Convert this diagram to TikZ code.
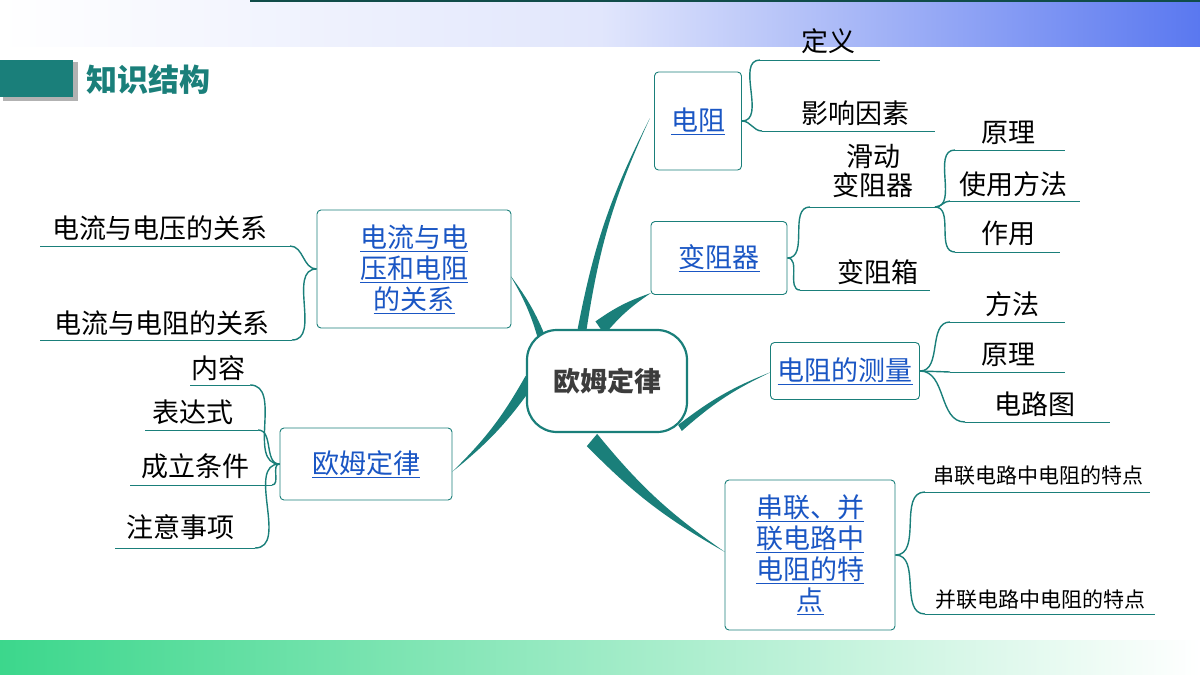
\documentclass[tikz,border=0pt]{standalone}
\usepackage{fontspec}
\setmainfont{Noto Sans CJK SC}
\usetikzlibrary{calc}
\definecolor{teal1}{HTML}{1A7F7A}
\definecolor{lnk}{HTML}{1A56C4}
\begin{document}
\begin{tikzpicture}[x=1pt,y=-1pt,
 box/.style={draw=teal1,line width=0.9pt,rounded corners=4pt,fill=white,align=center,text=lnk,font=\fontsize{27}{31}\selectfont,inner sep=0pt},
 leaf/.style={font=\fontsize{27}{29}\selectfont,inner sep=0pt,align=center},
 uline/.style={draw=teal1,line width=1pt},
 conn/.style={draw=teal1,line width=1.4pt}]
\useasboundingbox (0,0) rectangle (1200,675);
% bands
\shade[left color=white,right color={rgb,255:red,90;green,120;blue,240},middle color={rgb,255:red,225;green,230;blue,252}] (0,0) rectangle (1200,46);
\fill[teal1!60!black] (250,0) rectangle (1200,2);
\shade[left color={rgb,255:red,60;green,215;blue,140},right color=white] (0,640) rectangle (1200,675);
% title
\fill[gray!60] (3,62) rectangle (78,101);
\fill[teal1] (0,60) rectangle (73,97);
\node[anchor=west,text=teal1,font=\fontsize{31}{31}\selectfont\bfseries] (title) at (83,80) {知识结构};
% tapered branches
\newcommand{\taper}[4]{\fill[teal1] ($(#1)!#3!90:(#2)$) to[bend #4=8] (#2) to[bend #4=-8] ($(#1)!#3!-90:(#2)$) -- cycle;}
\coordinate (a1) at (582,330); \coordinate (b1) at (650,118);
\taper{a1}{b1}{4.5pt}{left}
\coordinate (a2) at (600,328); \coordinate (b2) at (651,293);
\taper{a2}{b2}{8pt}{left}
\coordinate (a3) at (545,348); \coordinate (b3) at (510,275);
\taper{a3}{b3}{4.5pt}{right}
\coordinate (a4) at (530,380); \coordinate (b4) at (452,472);
\taper{a4}{b4}{6pt}{left}
\coordinate (a5) at (680,428); \coordinate (b5) at (771,372);
\taper{a5}{b5}{3.5pt}{left}
\coordinate (a6) at (592,440); \coordinate (b6) at (725,552);
\taper{a6}{b6}{8pt}{right}
% center
\node[draw=teal1,line width=2.2pt,fill=white,rounded corners=30pt,minimum width=160pt,minimum height=102pt,font=\fontsize{27}{27}\selectfont\bfseries,text={rgb,255:red,60;green,60;blue,60}] (c) at (607,381) {欧姆定律};
% boxes
\node[box,minimum width=87pt,minimum height=98pt] (r) at (698,121) {\underline{电阻}};
\node[box,minimum width=136pt,minimum height=73pt] (bz) at (719,258) {\underline{变阻器}};
\node[box,minimum width=149pt,minimum height=57pt] (cl) at (845,371) {\underline{电阻的测量}};
\node[box,minimum width=170pt,minimum height=150pt] (cb) at (810,555) {\underline{串联、并}\\\underline{联电路中}\\\underline{电阻的特}\\\underline{点}};
\node[box,minimum width=194pt,minimum height=118pt] (gx) at (414,269) {\underline{电流与电}\\\underline{压和电阻}\\\underline{的关系}};
\node[box,minimum width=172pt,minimum height=72pt] (om) at (366,464) {\underline{欧姆定律}};
% right of 电阻
\node[leaf] (dy) at (828,41) {定义}; \coordinate (dys) at (760,60); \draw[uline] (dys) -- (880,60);
\node[leaf] (yx) at (855,113) {影响因素}; \coordinate (yxs) at (762,131); \draw[uline] (yxs) -- (935,131);
\draw[conn] (r.east) to[out=0,in=180] (dys);
\draw[conn] (r.east) to[out=0,in=180] (yxs);
% 变阻器
\node[leaf] (hd) at (873,171) {滑动\\变阻器}; \coordinate (hds) at (810,207); \coordinate (hde) at (935,207); \draw[uline] (hds) -- (hde);
\node[leaf] (bzx) at (878,272) {变阻箱}; \coordinate (bzxs) at (800,290); \draw[uline] (bzxs) -- (930,290);
\draw[conn] (bz.east) to[out=0,in=180] (hds);
\draw[conn] (bz.east) to[out=0,in=180] (bzxs);
\node[leaf] (yl) at (1008,133) {原理}; \coordinate (yls) at (955,150); \draw[uline] (yls) -- (1065,150);
\node[leaf] (sy) at (1013,184) {使用方法}; \coordinate (sys) at (950,201); \draw[uline] (sys) -- (1080,201);
\node[leaf] (zy) at (1008,233) {作用}; \coordinate (zys) at (955,252); \draw[uline] (zys) -- (1060,252);
\draw[conn] (hde) to[out=0,in=180] (yls);
\draw[conn] (hde) to[out=0,in=180] (sys);
\draw[conn] (hde) to[out=0,in=180] (zys);
% 测量
\node[leaf] (ff) at (1012,304) {方法}; \coordinate (ffs) at (950,322); \draw[uline] (ffs) -- (1065,322);
\node[leaf] (yl2) at (1008,355) {原理}; \coordinate (yl2s) at (950,372); \draw[uline] (yl2s) -- (1065,372);
\node[leaf] (dlt) at (1035,404) {电路图}; \coordinate (dlts) at (965,422); \draw[uline] (dlts) -- (1110,422);
\draw[conn] (cl.east) to[out=0,in=180] (ffs);
\draw[conn] (cl.east) -- (yl2s);
\draw[conn] (cl.east) to[out=0,in=180] (dlts);
% 串并联
\node[leaf,font=\fontsize{21}{23}\selectfont] (cl1) at (1038,476) {串联电路中电阻的特点}; \coordinate (cl1s) at (925,492); \draw[uline] (cl1s) -- (1150,492);
\node[leaf,font=\fontsize{21}{23}\selectfont] (bl1) at (1040,600) {并联电路中电阻的特点}; \coordinate (bl1s) at (925,614); \draw[uline] (bl1s) -- (1155,614);
\draw[conn] (cb.east) to[out=0,in=180] (cl1s);
\draw[conn] (cb.east) to[out=0,in=180] (bl1s);
% left relation
\node[leaf] (uv) at (160,228) {电流与电压的关系}; \coordinate (uvs) at (290,246); \draw[uline] (40,246) -- (uvs);
\node[leaf] (ur) at (162,323) {电流与电阻的关系}; \coordinate (urs) at (292,340); \draw[uline] (40,340) -- (urs);
\draw[conn] (gx.west) to[out=180,in=0] (uvs);
\draw[conn] (gx.west) to[out=180,in=0] (urs);
% left ohm
\node[leaf] (nr) at (218,368) {内容}; \coordinate (nrs) at (250,385); \draw[uline] (190,385) -- (nrs);
\node[leaf] (bd) at (193,412) {表达式}; \coordinate (bds) at (258,430); \draw[uline] (145,430) -- (bds);
\node[leaf] (tj) at (195,466) {成立条件}; \coordinate (tjs) at (272,485); \draw[uline] (130,485) -- (tjs);
\node[leaf] (zysx) at (180,527) {注意事项}; \coordinate (zysxs) at (255,548); \draw[uline] (115,548) -- (zysxs);
\draw[conn] (om.west) to[out=180,in=0] (nrs);
\draw[conn] (om.west) to[out=180,in=0] (bds);
\draw[conn] (om.west) to[out=180,in=0] (tjs);
\draw[conn] (om.west) to[out=180,in=0] (zysxs);
\end{tikzpicture}
\end{document}
